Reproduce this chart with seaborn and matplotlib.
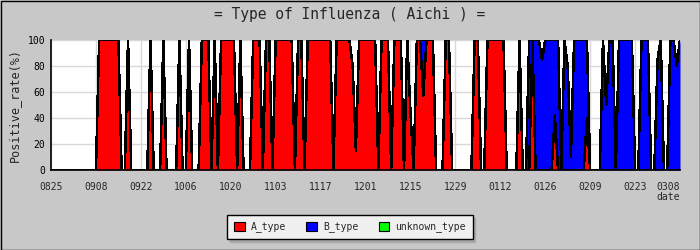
import numpy as np
import pandas as pd
import matplotlib
matplotlib.use("Agg")
import matplotlib.pyplot as plt
from matplotlib.patches import Patch
from matplotlib.ticker import MultipleLocator
import seaborn as sns

# ---- data (daily, 2011-08-25 .. 2012-03-08) ----
start_date = "2011-08-25"
tick_labels = ["0825", "0908", "0922", "1006", "1020", "1103", "1117", "1201",
               "1215", "1229", "0112", "0126", "0209", "0223", "0308"]
a_type = [
    0, 0, 0, 0, 0, 0, 0, 0, 0, 0, 0, 0, 0, 0,
    0, 100, 100, 100, 100, 100, 100, 100, 0, 0, 100, 0, 0, 0,
    0, 0, 0, 100, 0, 0, 0, 100, 0, 0, 0, 0, 100, 0,
    0, 100, 0, 0, 0, 100, 100, 100, 0, 100, 0, 100, 100, 100,
    100, 100, 0, 100, 0, 0, 0, 100, 100, 100, 0, 100, 100, 0,
    100, 100, 100, 100, 100, 100, 0, 100, 100, 0, 100, 100, 100, 100,
    100, 100, 100, 100, 0, 100, 100, 100, 100, 100, 80, 15, 100, 100,
    100, 100, 100, 100, 0, 100, 100, 100, 0, 100, 100, 100, 0, 100,
    45, 0, 100, 100, 57, 100, 100, 100, 0, 0, 0, 100, 100, 0,
    0, 0, 0, 0, 0, 0, 100, 100, 0, 0, 100, 100, 100, 100,
    100, 100, 0, 0, 0, 0, 100, 0, 0, 0, 100, 0, 0, 0,
    0, 0, 0, 42, 0, 0, 0, 0, 0, 0, 0, 0, 0, 40,
    0, 0, 0, 0, 0, 0, 0, 0, 0, 0, 0, 0, 0, 0,
    0, 0, 0, 0, 0, 0, 0, 0, 0, 0, 0, 0, 0, 0,
    0,
]
b_type = [
    0, 0, 0, 0, 0, 0, 0, 0, 0, 0, 0, 0, 0, 0,
    0, 0, 0, 0, 0, 0, 0, 0, 0, 0, 0, 0, 0, 0,
    0, 0, 0, 0, 0, 0, 0, 0, 0, 0, 0, 0, 0, 0,
    0, 0, 0, 0, 0, 0, 0, 0, 0, 0, 0, 0, 0, 0,
    0, 0, 0, 0, 0, 0, 0, 0, 0, 0, 0, 0, 0, 0,
    0, 0, 0, 0, 0, 0, 0, 0, 0, 0, 0, 0, 0, 0,
    0, 0, 0, 0, 0, 0, 0, 0, 0, 0, 0, 0, 0, 0,
    0, 0, 0, 0, 0, 0, 0, 0, 0, 0, 0, 0, 0, 0,
    0, 0, 0, 0, 43, 0, 0, 0, 0, 0, 0, 0, 0, 0,
    0, 0, 0, 0, 0, 0, 0, 0, 0, 0, 0, 0, 0, 0,
    0, 0, 0, 0, 0, 0, 0, 0, 0, 100, 0, 100, 100, 85,
    100, 100, 100, 58, 100, 0, 100, 80, 10, 100, 100, 100, 100, 60,
    0, 0, 0, 0, 100, 50, 100, 100, 0, 100, 100, 100, 100, 100,
    0, 0, 100, 100, 100, 0, 0, 85, 100, 0, 0, 100, 100, 80,
    100,
]
unknown_type = [0] * len(a_type)
series_names = ["A_type", "B_type", "unknown_type"]
series_colors = ["#ff0000", "#0000ff", "#00ff00"]

dates = pd.date_range(start_date, periods=len(a_type), freq="D")
df = pd.DataFrame({"day": np.arange(len(a_type)), "date": dates,
                   "A_type": a_type, "B_type": b_type, "unknown_type": unknown_type})

sns.set_style("white")
plt.rcParams["font.family"] = ["DejaVu Sans Mono", "DejaVu Sans"]

W, H = 700, 250
fig = plt.figure(figsize=(W / 100, H / 100), dpi=100, facecolor="#c8c8c8")
ax = fig.add_axes([51 / W, 80 / H, 629 / W, 130 / H])
ax.set_facecolor("white")

# stacked areas
lower = np.zeros(len(df))
tops = []
for name, col in zip(series_names, series_colors):
    upper = lower + df[name].to_numpy()
    ax.fill_between(df["day"], lower, upper, color=col, linewidth=0, zorder=2,
                    antialiased=False)
    tops.append(upper.copy())
    lower = upper

for up in tops:
    sns.lineplot(x=df["day"], y=up, color="black", linewidth=1.1, ax=ax,
                 zorder=3, estimator=None, sort=False, antialiased=False)

ax.set_xlim(0, len(df) - 1)
ax.set_ylim(0, 100)
ax.set_xticks(np.arange(0, len(df), 14))
ax.set_xticklabels(tick_labels, fontsize=7)
ax.get_xticklabels()[-1].set_horizontalalignment("right")
ax.yaxis.set_major_locator(MultipleLocator(20))
ax.yaxis.set_minor_locator(MultipleLocator(10))
ax.tick_params(axis="y", which="major", direction="in", length=4, width=1,
               labelsize=7, pad=4, colors="black")
ax.tick_params(axis="y", which="minor", direction="in", length=2, width=1)
ax.tick_params(axis="x", length=0, pad=9, labelsize=7)
ax.grid(True, which="major", color="#d8d8d8", linewidth=1, zorder=0)
ax.set_axisbelow(True)
for s in ["top", "right"]:
    ax.spines[s].set_visible(False)
for s in ["left", "bottom"]:
    ax.spines[s].set_color("black")
    ax.spines[s].set_linewidth(1.2)
    ax.spines[s].set_zorder(5)
ax.set_xlabel("")
ax.set_ylabel("Positive_rate(%)", fontsize=8.5, labelpad=5)

fig.text(350 / W, 1 - 14 / H, "= Type of Influenza ( Aichi ) =", ha="center",
         va="center", fontsize=10.5)
fig.text(680 / W, 1 - 197 / H, "date", ha="right", va="center", fontsize=7)

handles = [Patch(facecolor=c, edgecolor="black", linewidth=0.8) for c in series_colors]
leg = fig.legend(handles, series_names, loc="center", ncol=3,
                 bbox_to_anchor=(350 / W, 1 - 227 / H), fontsize=7, frameon=True,
                 fancybox=False, shadow={"color": "#a8a8a8", "alpha": 1},
                 edgecolor="black", facecolor="#f0f0f0",
                 handlelength=1.1, handleheight=1.1, handletextpad=0.6,
                 columnspacing=2.1, borderpad=0.7)
leg.get_frame().set_linewidth(1)
leg.get_frame().set_alpha(1)

# outer border
fig.patches.append(plt.Rectangle((0.5 / W, 0.5 / H), 1 - 1 / W, 1 - 1 / H,
                                 transform=fig.transFigure, fill=False,
                                 edgecolor="black", linewidth=1))
fig.savefig("out.png", dpi=100, facecolor=fig.get_facecolor())
